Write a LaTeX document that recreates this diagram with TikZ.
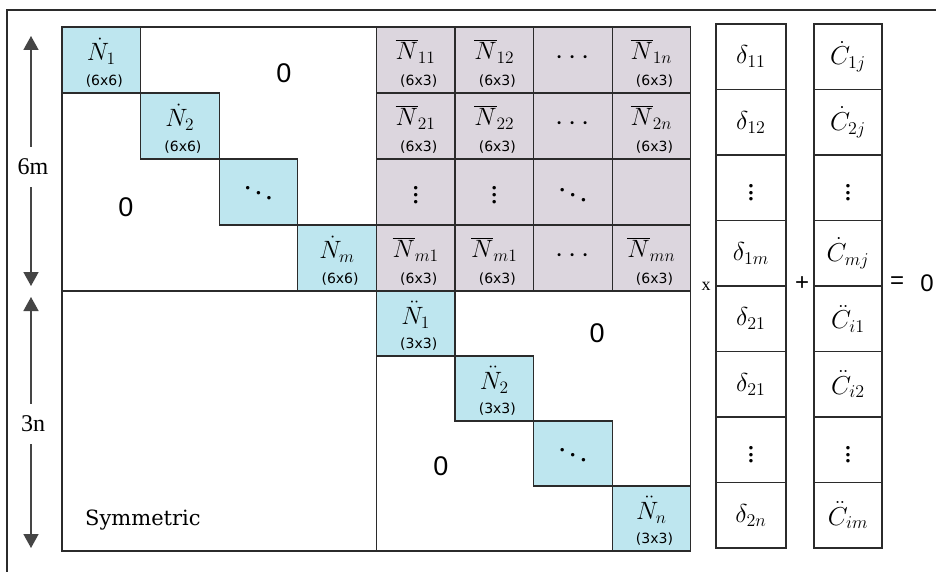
\documentclass[tikz,border=0pt]{standalone}
\usepackage{fix-cm}
\usepackage{fontspec}
\setmainfont{Liberation Serif}
\newfontfamily\zerofont{Liberation Sans}
\newfontfamily\dimfont{DejaVu Sans}
\newfontfamily\symfont{DejaVu Serif}
\usetikzlibrary{arrows.meta}

\definecolor{blockblue}{HTML}{BEE6EF}
\definecolor{blockmauve}{HTML}{DCD6DE}
\definecolor{gridline}{HTML}{2B2B2B}
\definecolor{arrowgray}{HTML}{454545}

% diagonal or coupling block: symbol on top, size below
\newcommand\blocklabel[5]{%
  \node[symlab, yshift=6pt] (#1s) at (#2,#3) {$#4$};
  \node[dimlab, xshift=3pt, yshift=-21pt] (#1d) at (#2,#3) {#5};
}

\begin{document}
\begin{tikzpicture}[x=1pt, y=-1pt,
  cellbase/.style={draw=gridline, line width=1.2pt, inner sep=0pt, minimum width=78.6pt},
  bcell/.style={cellbase, fill=blockblue, minimum height=#1},
  pcell/.style={cellbase, fill=blockmauve, minimum height=66pt},
  vcell/.style={draw=gridline, line width=1.2pt, inner sep=0pt, minimum height=65.5pt, minimum width=#1},
  symlab/.style={inner sep=0pt, scale=1.45, font=\fontsize{17.28}{20}\selectfont},
  dotlab/.style={inner sep=0pt, scale=1.7, font=\fontsize{17.28}{20}\selectfont},
  veclab/.style={inner sep=0pt, scale=1.5, font=\fontsize{17.28}{20}\selectfont},
  dimlab/.style={inner sep=0pt, font=\dimfont\fontsize{14}{16}\selectfont},
  zerolab/.style={inner sep=0pt, font=\zerofont\fontsize{27}{30}\selectfont},
  sizelab/.style={inner sep=0pt, minimum height=40pt, font=\fontsize{24}{28}\selectfont},
  dimarrow/.style={draw=arrowgray, line width=1.6pt, -{Triangle[width=15pt,length=14pt]}, arrowgray},
  gridlinestyle/.style={draw=gridline, line width=1.2pt}
]
\useasboundingbox (0,0) rectangle (936,572);
\fill[white] (0,0) rectangle (936,572);

% open frame round the equation
\coordinate (frameTL) at (7,10);
\coordinate (frameTR) at (936,10);
\coordinate (frameBL) at (7,572);
\draw[gridlinestyle, line width=1.4pt] (frameTR) -- (frameTL) -- (frameBL);

% ---- coefficient matrix -------------------------------------------------
% rotational diagonal blocks
\node[bcell=66pt] (b1) at (101.3,60) {};
\node[bcell=66pt] (b2) at (179.9,126) {};
\node[bcell=66pt] (b3) at (258.5,192) {};
\node[bcell=66pt] (b4) at (337.1,258) {};
\blocklabel{b1}{101.3}{60}{\dot{N}_{1}}{(6x6)}
\blocklabel{b2}{179.9}{126}{\dot{N}_{2}}{(6x6)}
\node[dotlab] (b3s) at (258.5,188) {$\ddots$};
\blocklabel{b4}{337.1}{258}{\dot{N}_{m}}{(6x6)}

% coupling blocks
\foreach \c/\x in {1/415.7,2/494.3,3/572.9,4/651.5}
  \foreach \r/\y in {1/60,2/126,3/192,4/258}
    \node[pcell] (p\r\c) at (\x,\y) {};
\blocklabel{p11}{415.7}{60}{\overline{N}_{11}}{(6x3)}
\blocklabel{p12}{494.3}{60}{\overline{N}_{12}}{(6x3)}
\node[dotlab] (p13s) at (572.9,58) {$\cdots$};
\blocklabel{p14}{651.5}{60}{\overline{N}_{1n}}{(6x3)}
\blocklabel{p21}{415.7}{126}{\overline{N}_{21}}{(6x3)}
\blocklabel{p22}{494.3}{126}{\overline{N}_{22}}{(6x3)}
\node[dotlab] (p23s) at (572.9,124) {$\cdots$};
\blocklabel{p24}{651.5}{126}{\overline{N}_{2n}}{(6x3)}
\node[dotlab] (p31s) at (415.7,190) {$\vdots$};
\node[dotlab] (p32s) at (494.3,190) {$\vdots$};
\node[dotlab] (p33s) at (572.9,190) {$\ddots$};
\blocklabel{p41}{415.7}{258}{\overline{N}_{m1}}{(6x3)}
\blocklabel{p42}{494.3}{258}{\overline{N}_{m1}}{(6x3)}
\node[dotlab] (p43s) at (572.9,256) {$\cdots$};
\blocklabel{p44}{651.5}{258}{\overline{N}_{mn}}{(6x3)}

% translational diagonal blocks
\node[bcell=65pt] (c1) at (415.7,323.5) {};
\node[bcell=65pt] (c2) at (494.3,388.5) {};
\node[bcell=65pt] (c3) at (572.9,453.5) {};
\node[bcell=65pt] (c4) at (651.5,518.5) {};
\blocklabel{c1}{415.7}{323.5}{\ddot{N}_{1}}{(3x3)}
\blocklabel{c2}{494.3}{388.5}{\ddot{N}_{2}}{(3x3)}
\node[dotlab] (c3s) at (572.9,450) {$\ddots$};
\blocklabel{c4}{651.5}{518.5}{\ddot{N}_{n}}{(3x3)}

% outline and partition of the matrix
\draw[gridlinestyle] (62,27) rectangle (690.8,551);
\draw[gridlinestyle] (376.4,27) -- (376.4,551);
\draw[gridlinestyle] (62,291) -- (690.8,291);

% zero blocks and symmetry note
\node[zerolab] (z1) at (284,73) {0};
\node[zerolab] (z2) at (126,207) {0};
\node[zerolab] (z3) at (597,333) {0};
\node[zerolab] (z4) at (441,466) {0};
\node[inner sep=0pt, anchor=west, font=\symfont\fontsize{21}{25}\selectfont] (symm) at (85,520) {Symmetric};

% ---- block dimensions ---------------------------------------------------
\node[sizelab] (lab6m) at (33,167) {6m};
\coordinate (top6m) at (31,36);
\coordinate (bot6m) at (31,286);
\draw[dimarrow] (lab6m.north -| top6m) -- (top6m);
\draw[dimarrow] (lab6m.south -| bot6m) -- (bot6m);

\node[sizelab] (lab3n) at (33,424) {3n};
\coordinate (top3n) at (31,297);
\coordinate (bot3n) at (31,548);
\draw[dimarrow] (lab3n.north -| top3n) -- (top3n);
\draw[dimarrow] (lab3n.south -| bot3n) -- (bot3n);

% ---- displacement vector ------------------------------------------------
\foreach \k/\y in {1/56.75,2/122.25,3/187.75,4/253.25,5/318.75,6/384.25,7/449.75,8/515.25}{
  \node[vcell=70pt] (v\k) at (751,\y) {};
  \node[vcell=68pt] (w\k) at (848,\y) {};
}
\node[veclab] (v1s) at (v1) {$\delta_{11}$};
\node[veclab] (v2s) at (v2) {$\delta_{12}$};
\node[dotlab] (v3s) at (v3) {$\vdots$};
\node[veclab] (v4s) at (v4) {$\delta_{1m}$};
\node[veclab] (v5s) at (v5) {$\delta_{21}$};
\node[veclab] (v6s) at (v6) {$\delta_{21}$};
\node[dotlab] (v7s) at (v7) {$\vdots$};
\node[veclab] (v8s) at (v8) {$\delta_{2n}$};

% ---- load vector --------------------------------------------------------
\node[veclab] (w1s) at (w1) {$\dot{C}_{1j}$};
\node[veclab] (w2s) at (w2) {$\dot{C}_{2j}$};
\node[dotlab] (w3s) at (w3) {$\vdots$};
\node[veclab] (w4s) at (w4) {$\dot{C}_{mj}$};
\node[veclab] (w5s) at (w5) {$\ddot{C}_{i1}$};
\node[veclab] (w6s) at (w6) {$\ddot{C}_{i2}$};
\node[dotlab] (w7s) at (w7) {$\vdots$};
\node[veclab] (w8s) at (w8) {$\ddot{C}_{im}$};

% ---- operators ----------------------------------------------------------
\node[inner sep=0pt, font=\fontsize{18}{20}\selectfont] (times) at (706,286) {x};
\node[inner sep=0pt, font=\zerofont\fontsize{24}{26}\selectfont] (plus) at (802,284) {+};
\node[inner sep=0pt, font=\zerofont\fontsize{24}{26}\selectfont] (eq) at (897,283) {=};
\node[inner sep=0pt, font=\zerofont\fontsize{24}{26}\selectfont] (rhs) at (927,283) {0};
\end{tikzpicture}
\end{document}
